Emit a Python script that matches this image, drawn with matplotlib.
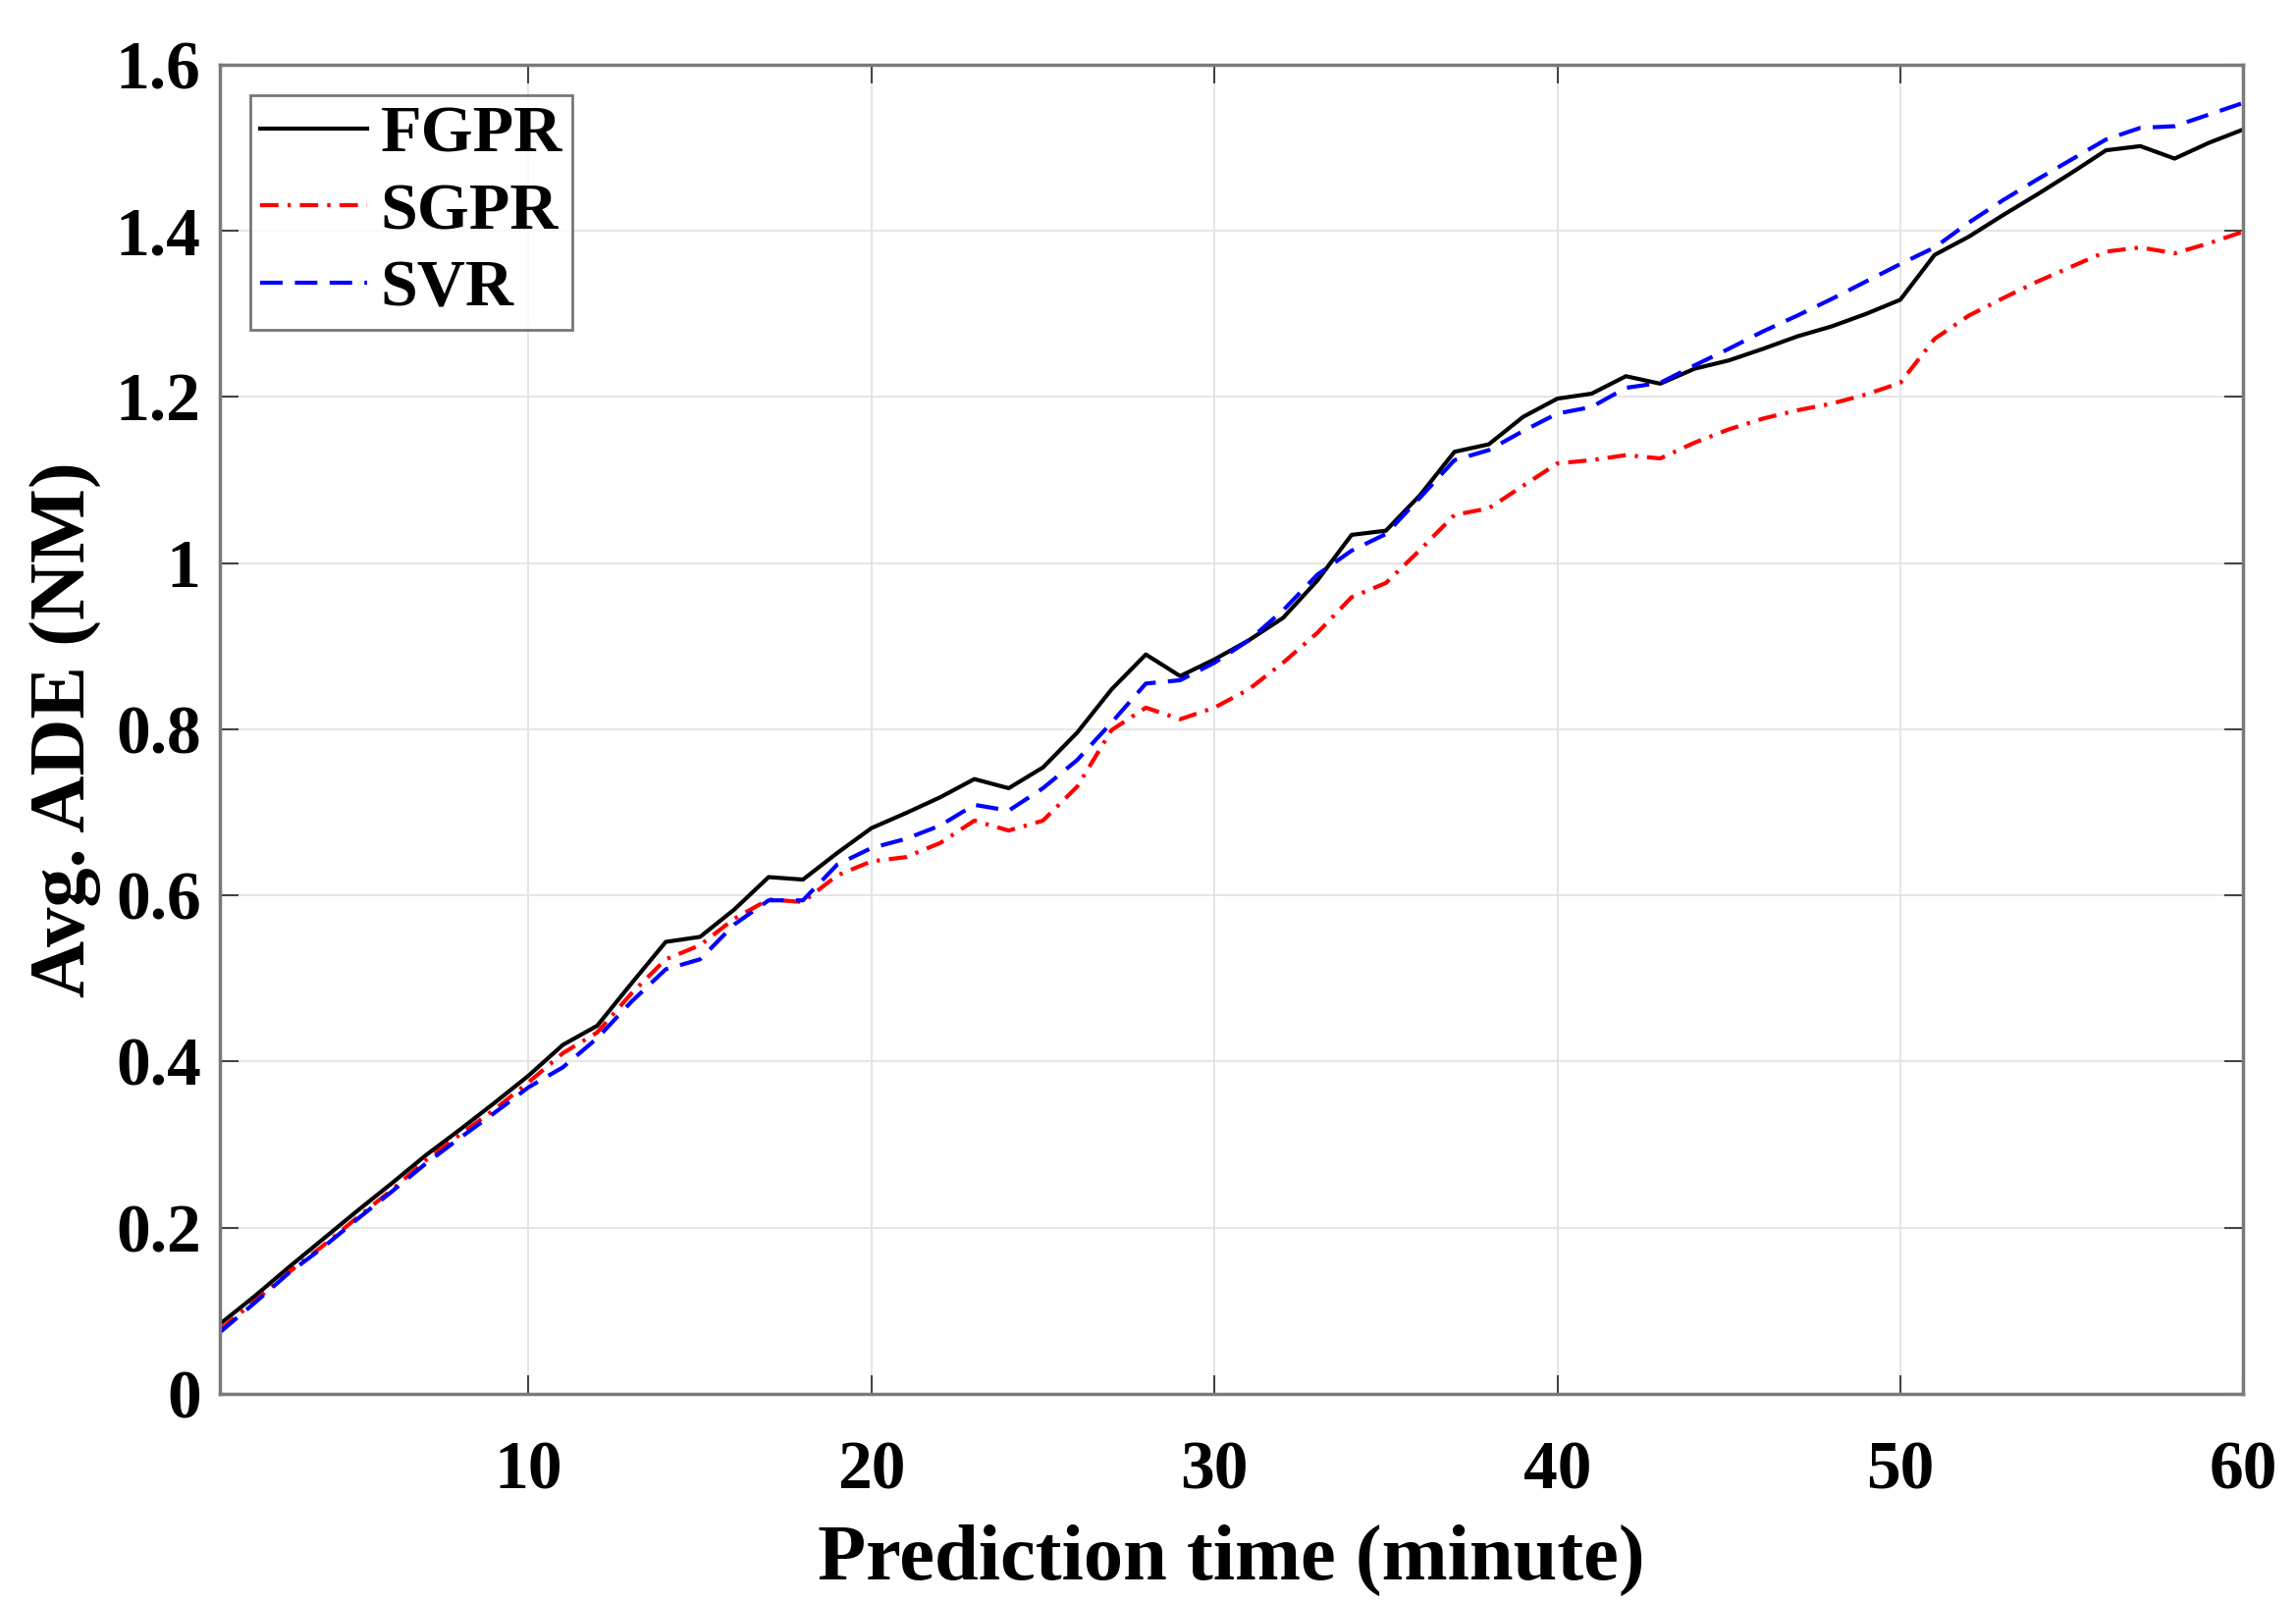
import numpy as np
import matplotlib
matplotlib.use("Agg")
import matplotlib.pyplot as plt
from matplotlib.ticker import FormatStrFormatter

# Avg. ADE vs prediction horizon for three regressors
minutes = list(range(1, 61))

fgpr = [0.084, 0.117, 0.152, 0.186, 0.220, 0.253, 0.287, 0.318, 0.350, 0.383,
        0.420, 0.443, 0.494, 0.544, 0.550, 0.583, 0.622, 0.619, 0.651, 0.681,
        0.699, 0.718, 0.740, 0.729, 0.754, 0.796, 0.848, 0.890, 0.864, 0.884,
        0.907, 0.934, 0.979, 1.034, 1.039, 1.082, 1.134, 1.143, 1.176, 1.198,
        1.204, 1.225, 1.216, 1.234, 1.244, 1.258, 1.273, 1.285, 1.300, 1.317,
        1.371, 1.393, 1.419, 1.444, 1.470, 1.497, 1.502, 1.487, 1.506, 1.522]

sgpr = [0.077, 0.111, 0.146, 0.178, 0.212, 0.245, 0.281, 0.312, 0.342, 0.375,
        0.410, 0.435, 0.482, 0.523, 0.540, 0.572, 0.595, 0.592, 0.624, 0.641,
        0.646, 0.663, 0.690, 0.678, 0.690, 0.731, 0.799, 0.826, 0.812, 0.826,
        0.848, 0.880, 0.916, 0.959, 0.976, 1.016, 1.058, 1.066, 1.093, 1.120,
        1.124, 1.130, 1.126, 1.145, 1.161, 1.174, 1.184, 1.192, 1.203, 1.217,
        1.270, 1.298, 1.319, 1.339, 1.357, 1.375, 1.380, 1.373, 1.385, 1.399]

svr = [0.074, 0.109, 0.145, 0.176, 0.210, 0.243, 0.277, 0.308, 0.338, 0.369,
       0.393, 0.428, 0.472, 0.511, 0.523, 0.565, 0.594, 0.594, 0.637, 0.657,
       0.668, 0.684, 0.709, 0.702, 0.729, 0.763, 0.808, 0.855, 0.859, 0.880,
       0.907, 0.943, 0.986, 1.015, 1.035, 1.079, 1.124, 1.136, 1.159, 1.180,
       1.188, 1.211, 1.217, 1.238, 1.258, 1.279, 1.298, 1.318, 1.339, 1.360,
       1.380, 1.410, 1.437, 1.462, 1.486, 1.510, 1.524, 1.526, 1.540, 1.554]

x_ticks = [10, 20, 30, 40, 50, 60]
y_ticks = [0, 0.2, 0.4, 0.6, 0.8, 1.0, 1.2, 1.4, 1.6]

plt.rcParams['font.family'] = ['Liberation Serif', 'DejaVu Serif']
plt.rcParams['font.weight'] = 'bold'

fig = plt.figure(figsize=(23.39, 16.32), dpi=100)
ax = fig.add_axes([0.0958, 0.130, 0.977 - 0.0958, 0.9596 - 0.130])

ax.plot(minutes, fgpr, color='black', lw=3.0, label='FGPR')
ax.plot(minutes, sgpr, color='red', lw=3.0, dashes=(4.5, 2.2, 0.8, 2.2), label='SGPR')
ax.plot(minutes, svr, color='blue', lw=3.0, dashes=(5.5, 3.0), label='SVR')

ax.set_xlim(1, 60)
ax.set_ylim(0, 1.6)
ax.set_xticks(x_ticks)
ax.set_yticks(y_ticks)
ax.yaxis.set_major_formatter(FormatStrFormatter('%g'))

ax.grid(True, color='#e3e3e3', lw=1.3)
ax.set_axisbelow(True)
for s in ax.spines.values():
    s.set_color('#7a7a7a')
    s.set_linewidth(2.5)

ax.tick_params(axis='both', direction='in', length=14, width=1.5, color='#444444',
               top=True, right=True, labelsize=50)
ax.tick_params(axis='x', pad=34)
ax.tick_params(axis='y', pad=14)

ax.set_xlabel('Prediction time (minute)', fontsize=58, fontweight='bold', labelpad=16)
ax.set_ylabel('Avg. ADE (NM)', fontsize=58, fontweight='bold', labelpad=10)

leg = ax.legend(loc='upper left', fontsize=49, frameon=True, fancybox=False,
                handlelength=1.6, handletextpad=0.2, labelspacing=0.25,
                borderpad=0.15, borderaxespad=0.45)
leg.get_frame().set_edgecolor('#555555')
leg.get_frame().set_linewidth(2)

fig.savefig('out.png', dpi=100)
